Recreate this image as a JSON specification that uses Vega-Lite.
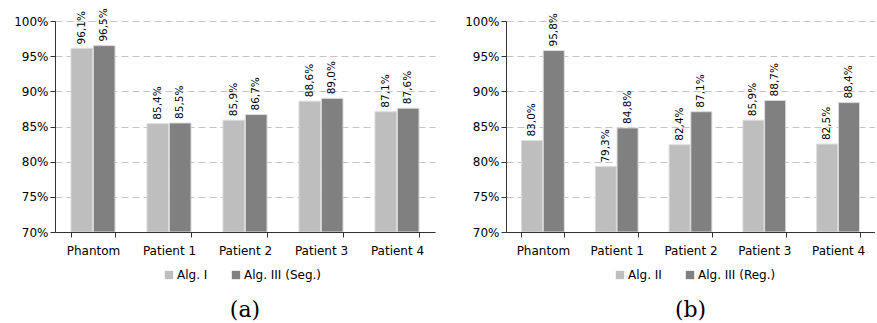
{
  "$schema": "https://vega.github.io/schema/vega-lite/v6.json",
  "padding": {"left": 13, "top": 8, "right": 0, "bottom": 0},
  "config": {
    "locale": {"number": {"decimal": ",", "thousands": ".", "grouping": [3], "currency": ["", "%"]}},
    "view": {"stroke": null},
    "font": "DejaVu Sans",
    "axis": {"labelFont": "DejaVu Sans", "labelFontSize": 12, "labelColor": "#000", "domainColor": "#333", "tickColor": "#333"},
    "legend": {"labelFont": "DejaVu Sans", "labelFontSize": 12, "labelColor": "#000"},
    "title": {"font": "DejaVu Serif", "fontSize": 22, "fontWeight": "normal", "color": "#000"}
  },
  "datasets": {
    "a": [
      {"cat": "Phantom", "alg": "Alg. I", "v": 0.961},
      {"cat": "Phantom", "alg": "Alg. III (Seg.)", "v": 0.965},
      {"cat": "Patient 1", "alg": "Alg. I", "v": 0.854},
      {"cat": "Patient 1", "alg": "Alg. III (Seg.)", "v": 0.855},
      {"cat": "Patient 2", "alg": "Alg. I", "v": 0.859},
      {"cat": "Patient 2", "alg": "Alg. III (Seg.)", "v": 0.867},
      {"cat": "Patient 3", "alg": "Alg. I", "v": 0.886},
      {"cat": "Patient 3", "alg": "Alg. III (Seg.)", "v": 0.890},
      {"cat": "Patient 4", "alg": "Alg. I", "v": 0.871},
      {"cat": "Patient 4", "alg": "Alg. III (Seg.)", "v": 0.876}
    ],
    "b": [
      {"cat": "Phantom", "alg": "Alg. II", "v": 0.830},
      {"cat": "Phantom", "alg": "Alg. III (Reg.)", "v": 0.958},
      {"cat": "Patient 1", "alg": "Alg. II", "v": 0.793},
      {"cat": "Patient 1", "alg": "Alg. III (Reg.)", "v": 0.848},
      {"cat": "Patient 2", "alg": "Alg. II", "v": 0.824},
      {"cat": "Patient 2", "alg": "Alg. III (Reg.)", "v": 0.871},
      {"cat": "Patient 3", "alg": "Alg. II", "v": 0.859},
      {"cat": "Patient 3", "alg": "Alg. III (Reg.)", "v": 0.887},
      {"cat": "Patient 4", "alg": "Alg. II", "v": 0.825},
      {"cat": "Patient 4", "alg": "Alg. III (Reg.)", "v": 0.884}
    ]
  },
  "spacing": 29,
  "resolve": {"scale": {"color": "independent", "x": "independent", "y": "independent", "xOffset": "independent"}, "legend": {"color": "independent"}},
  "hconcat": [
    {
      "width": 380, "height": 211,
      "data": {"name": "a"},
      "title": {"text": "(a)", "orient": "bottom", "anchor": "middle", "offset": 32, "dy": -13},
      "encoding": {
        "x": {"field": "cat", "type": "nominal", "sort": null, "title": null,
              "scale": {"paddingInner": 0.42, "paddingOuter": 0.21},
              "axis": {"labelAngle": 0, "tickBand": "extent", "labelPadding": 8, "tickSize": 5}},
        "y": {"field": "v", "type": "quantitative", "title": null,
              "scale": {"domain": [0.7, 1.0], "nice": false, "zero": false},
              "axis": {"format": ".0%", "values": [0.7, 0.75, 0.8, 0.85, 0.9, 0.95, 1.0], "gridDash": [7, 4], "gridColor": "#c4c4c4", "tickSize": 5, "domain": true}},
        "xOffset": {"field": "alg", "type": "nominal", "sort": null, "scale": {"paddingInner": 0.03}}
      },
      "layer": [
        {"mark": {"type": "bar", "stroke": "#dcdcdc", "strokeWidth": 1, "clip": true},
         "encoding": {"y2": {"datum": 0.7},
           "color": {"field": "alg", "type": "nominal", "sort": null,
             "scale": {"range": ["#bebebe", "#808080"]},
             "legend": {"title": null, "orient": "none", "direction": "horizontal", "legendX": 108, "legendY": 248, "symbolType": "square", "symbolSize": 70, "symbolStrokeWidth": 0, "columnPadding": 22, "labelOffset": 2}}}},
        {"mark": {"type": "text", "angle": 270, "align": "left", "baseline": "middle", "dx": 4, "fontSize": 10.5, "font": "DejaVu Sans"},
         "encoding": {"text": {"field": "v", "type": "quantitative", "format": ".1%"}}}
      ]
    },
    {
      "width": 369, "height": 211,
      "data": {"name": "b"},
      "title": {"text": "(b)", "orient": "bottom", "anchor": "middle", "offset": 32, "dy": -13},
      "encoding": {
        "x": {"field": "cat", "type": "nominal", "sort": null, "title": null,
              "scale": {"paddingInner": 0.42, "paddingOuter": 0.21},
              "axis": {"labelAngle": 0, "tickBand": "extent", "labelPadding": 8, "tickSize": 5}},
        "y": {"field": "v", "type": "quantitative", "title": null,
              "scale": {"domain": [0.7, 1.0], "nice": false, "zero": false},
              "axis": {"format": ".0%", "values": [0.7, 0.75, 0.8, 0.85, 0.9, 0.95, 1.0], "gridDash": [7, 4], "gridColor": "#c4c4c4", "tickSize": 5, "domain": true}},
        "xOffset": {"field": "alg", "type": "nominal", "sort": null, "scale": {"paddingInner": 0.03}}
      },
      "layer": [
        {"mark": {"type": "bar", "stroke": "#dcdcdc", "strokeWidth": 1, "clip": true},
         "encoding": {"y2": {"datum": 0.7},
           "color": {"field": "alg", "type": "nominal", "sort": null,
             "scale": {"range": ["#bebebe", "#808080"]},
             "legend": {"title": null, "orient": "none", "direction": "horizontal", "legendX": 108, "legendY": 248, "symbolType": "square", "symbolSize": 70, "symbolStrokeWidth": 0, "columnPadding": 22, "labelOffset": 2}}}},
        {"mark": {"type": "text", "angle": 270, "align": "left", "baseline": "middle", "dx": 4, "fontSize": 10.5, "font": "DejaVu Sans"},
         "encoding": {"text": {"field": "v", "type": "quantitative", "format": ".1%"}}}
      ]
    }
  ]
}
